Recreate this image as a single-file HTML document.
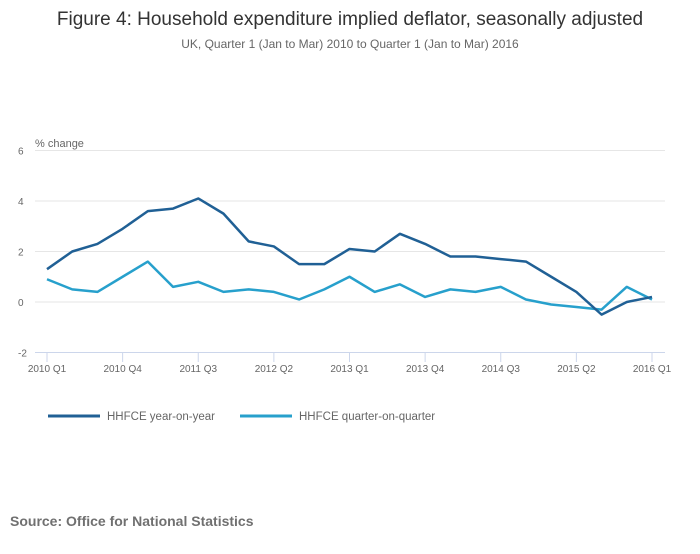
<!DOCTYPE html>
<html><head><meta charset="utf-8"><style>
body{margin:0;background:#fff;font-family:"Liberation Sans",sans-serif;}
</style></head><body>
<svg id="c" width="700" height="549" xmlns="http://www.w3.org/2000/svg">
<rect width="700" height="549" fill="#fff"/>
<text x="350" y="25" text-anchor="middle" font-size="19" fill="#333">Figure 4: Household expenditure implied deflator, seasonally adjusted</text>
<text x="350" y="48" text-anchor="middle" font-size="12" fill="#666">UK, Quarter 1 (Jan to Mar) 2010 to Quarter 1 (Jan to Mar) 2016</text>
<text x="35" y="147" font-size="11" fill="#666">% change</text>
<g id="grid"></g><g id="xt"></g><g id="lines"></g>
<g>
<line x1="48" y1="416" x2="100" y2="416" stroke="#206095" stroke-width="3"/>
<text x="107" y="420" font-size="11.5" fill="#666">HHFCE year-on-year</text>
<line x1="240" y1="416" x2="292" y2="416" stroke="#27a0cc" stroke-width="3"/>
<text x="299" y="420" font-size="11.5" fill="#666">HHFCE quarter-on-quarter</text>
</g>
<text x="10" y="526" font-size="14" font-weight="bold" fill="#707070">Source: Office for National Statistics</text>
</svg>
<script>
const yTicks=[6,4,2,0,-2];
const xLabels=["2010 Q1","2010 Q4","2011 Q3","2012 Q2","2013 Q1","2013 Q4","2014 Q3","2015 Q2","2016 Q1"];
const yoy=[1.3,2.0,2.3,2.9,3.6,3.7,4.1,3.5,2.4,2.2,1.5,1.5,2.1,2.0,2.7,2.3,1.8,1.8,1.7,1.6,1.0,0.4,-0.5,0.0,0.2];
const qoq=[0.9,0.5,0.4,1.0,1.6,0.6,0.8,0.4,0.5,0.4,0.1,0.5,1.0,0.4,0.7,0.2,0.5,0.4,0.6,0.1,-0.1,-0.2,-0.3,0.6,0.1];
const NS="http://www.w3.org/2000/svg";
const x0=47,x1=652,n=yoy.length;
const X=i=>x0+(x1-x0)*i/(n-1);
const Y=v=>302-v*25.25;
function mk(t,a,p){const e=document.createElementNS(NS,t);for(const k in a)e.setAttribute(k,a[k]);p.appendChild(e);return e;}
const g=document.getElementById('grid');
yTicks.forEach(v=>{
 const l=mk('line',{x1:35,x2:665,y1:Y(v),y2:Y(v),stroke:v===-2?'#ccd6eb':'#e6e6e6'},g);
 
 
 const t=mk('text',{x:18,y:Y(v)+4,'font-size':10,fill:'#666'},g);t.textContent=v;
 
 
});
const xt=document.getElementById('xt');
xLabels.forEach((s,j)=>{
 const x=X(j*3);
 const l=mk('line',{x1:x,x2:x,y1:352,y2:362,stroke:'#ccd6eb'},xt);
 
 
 const t=mk('text',{x:x,y:372,'font-size':10,fill:'#666','text-anchor':'middle'},xt);t.textContent=s;
 
 
});
const L=document.getElementById('lines');
[[qoq,'#27a0cc','line-qoq'],[yoy,'#206095','line-yoy']].forEach(([d,c,nm])=>{
 const p=mk('polyline',{points:d.map((v,i)=>X(i)+','+Y(v)).join(' '),fill:'none',stroke:c,'stroke-width':2.5,'stroke-linejoin':'round'},L);
 
 
});
</script>
</body></html>
